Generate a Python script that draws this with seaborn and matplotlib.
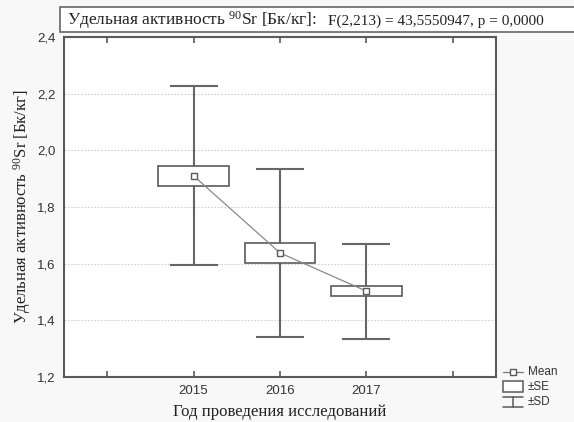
import numpy as np
import pandas as pd
import matplotlib
matplotlib.use("Agg")
import matplotlib.pyplot as plt
import seaborn as sns
from matplotlib.patches import Rectangle
from matplotlib.lines import Line2D

# ---- data ----
years = ["2015", "2016", "2017"]
means = [1.910, 1.638, 1.503]
se = [0.036, 0.035, 0.018]
sd = [0.316, 0.297, 0.168]
yticks = [1.2, 1.4, 1.6, 1.8, 2.0, 2.2, 2.4]
ytick_labels = ["1,2", "1,4", "1,6", "1,8", "2,0", "2,2", "2,4"]
title_main = "Удельная активность $^{90}$Sr [Бк/кг]:"
title_stat = "F(2,213) = 43,5550947, p = 0,0000"
xlabel = "Год проведения исследований"
ylabel = "Удельная активность $^{90}$Sr [Бк/кг]"
legend_labels = ["Mean", "±SE", "±SD"]

sns.set_theme(style="white")
plt.rcParams["font.family"] = ["Liberation Sans", "DejaVu Sans"]
plt.rcParams["mathtext.fontset"] = "custom"
plt.rcParams["mathtext.rm"] = "Liberation Serif"
plt.rcParams["mathtext.it"] = "Liberation Serif:italic"
plt.rcParams["mathtext.bf"] = "Liberation Serif:bold"
SERIF = ["Liberation Serif", "DejaVu Serif"]

W, H = 574, 422
def fx(x):
    return x / W
def fy(y):
    return 1 - y / H

fig = plt.figure(figsize=(W / 100, H / 100), dpi=100, facecolor="#f8f8f8")
ax = fig.add_axes([fx(64), fy(377), (496 - 64) / W, (377 - 37) / H])
ax.set_facecolor("white")

df = pd.DataFrame({"year": years, "pos": np.arange(1, len(years) + 1),
                   "mean": means, "se": se, "sd": sd})

EDGE = "#5a5a5a"
# SD whiskers
ax.errorbar(df["pos"], df["mean"], yerr=df["sd"], fmt="none", ecolor="#666666",
            elinewidth=1.5, capsize=17.6, capthick=1.5, zorder=2)
# SE boxes
ax.bar(df["pos"], 2 * df["se"], bottom=df["mean"] - df["se"], width=0.82,
       facecolor="white", edgecolor=EDGE, linewidth=1.2, zorder=3)
# mean line
sns.lineplot(data=df, x="pos", y="mean", ax=ax, color="#8a8a8a", lw=0.9,
             marker="s", markersize=5, markerfacecolor="white",
             markeredgecolor=EDGE, markeredgewidth=1.0, zorder=4)

ax.set_xlim(-0.5, 4.5)
ax.set_ylim(1.2, 2.4)
ax.set_xticks(range(0, len(years) + 2))
ax.set_xticklabels([""] + years + [""])
ax.set_yticks(yticks)
ax.set_yticklabels(ytick_labels)
ax.tick_params(axis="x", direction="in", top=True, bottom=True, length=4,
               width=1.2, color=EDGE, labelsize=9.5, labelcolor="#333333", pad=6)
ax.tick_params(axis="y", length=0, labelsize=9.5, labelcolor="#333333", pad=6)
ax.yaxis.grid(True, color="#cfcfcf", linestyle=(0, (1.5, 1.5)), linewidth=0.8)
ax.set_axisbelow(True)
for s in ax.spines.values():
    s.set_visible(True)
    s.set_color(EDGE)
    s.set_linewidth(1.5)

ax.set_xlabel(xlabel, family=SERIF, fontsize=12, color="#222222", va="center")
ax.xaxis.set_label_coords(0.5, -0.103)
ax.set_ylabel(ylabel, family=SERIF, fontsize=12, color="#222222", va="center")
ax.yaxis.set_label_coords(-0.097, 0.5)

# title box
fig.patches.append(Rectangle((fx(60), fy(32)), 1.0, (32 - 7) / H,
                             transform=fig.transFigure, facecolor="white",
                             edgecolor="#666666", linewidth=1.2, clip_on=False,
                             zorder=1))
t1 = fig.text(fx(67), fy(25), title_main, family=SERIF, fontsize=12.5,
              color="#222222", va="baseline", ha="left", zorder=5)
fig.canvas.draw()
bb = t1.get_window_extent(renderer=fig.canvas.get_renderer())
fig.text((bb.x1 + 11) / W, fy(25), title_stat, family=SERIF, fontsize=11,
         color="#222222", va="baseline", ha="left", zorder=5)

# legend (manual, like the original)
fig.add_artist(Line2D([fx(503), fx(523)], [fy(372), fy(372)], color="#777777",
                      lw=0.9, transform=fig.transFigure))
fig.add_artist(Line2D([fx(513)], [fy(372)], marker="s", markersize=5,
                      markerfacecolor="white", markeredgecolor=EDGE,
                      markeredgewidth=1.0, transform=fig.transFigure))
fig.patches.append(Rectangle((fx(503), fy(392)), 20 / W, 11 / H,
                             transform=fig.transFigure, facecolor="white",
                             edgecolor=EDGE, linewidth=1.1))
for xs, ys in [([503, 523], [397, 397]), ([513, 513], [397, 407]),
               ([503, 523], [407, 407])]:
    fig.add_artist(Line2D([fx(v) for v in xs], [fy(v) for v in ys],
                          color=EDGE, lw=1.1, transform=fig.transFigure))
for lab, y in zip(legend_labels, [372, 387, 402]):
    fig.text(fx(528), fy(y), lab, fontsize=8.5, color="#333333",
             va="center", ha="left")

fig.savefig("out.png", dpi=100, facecolor=fig.get_facecolor())
